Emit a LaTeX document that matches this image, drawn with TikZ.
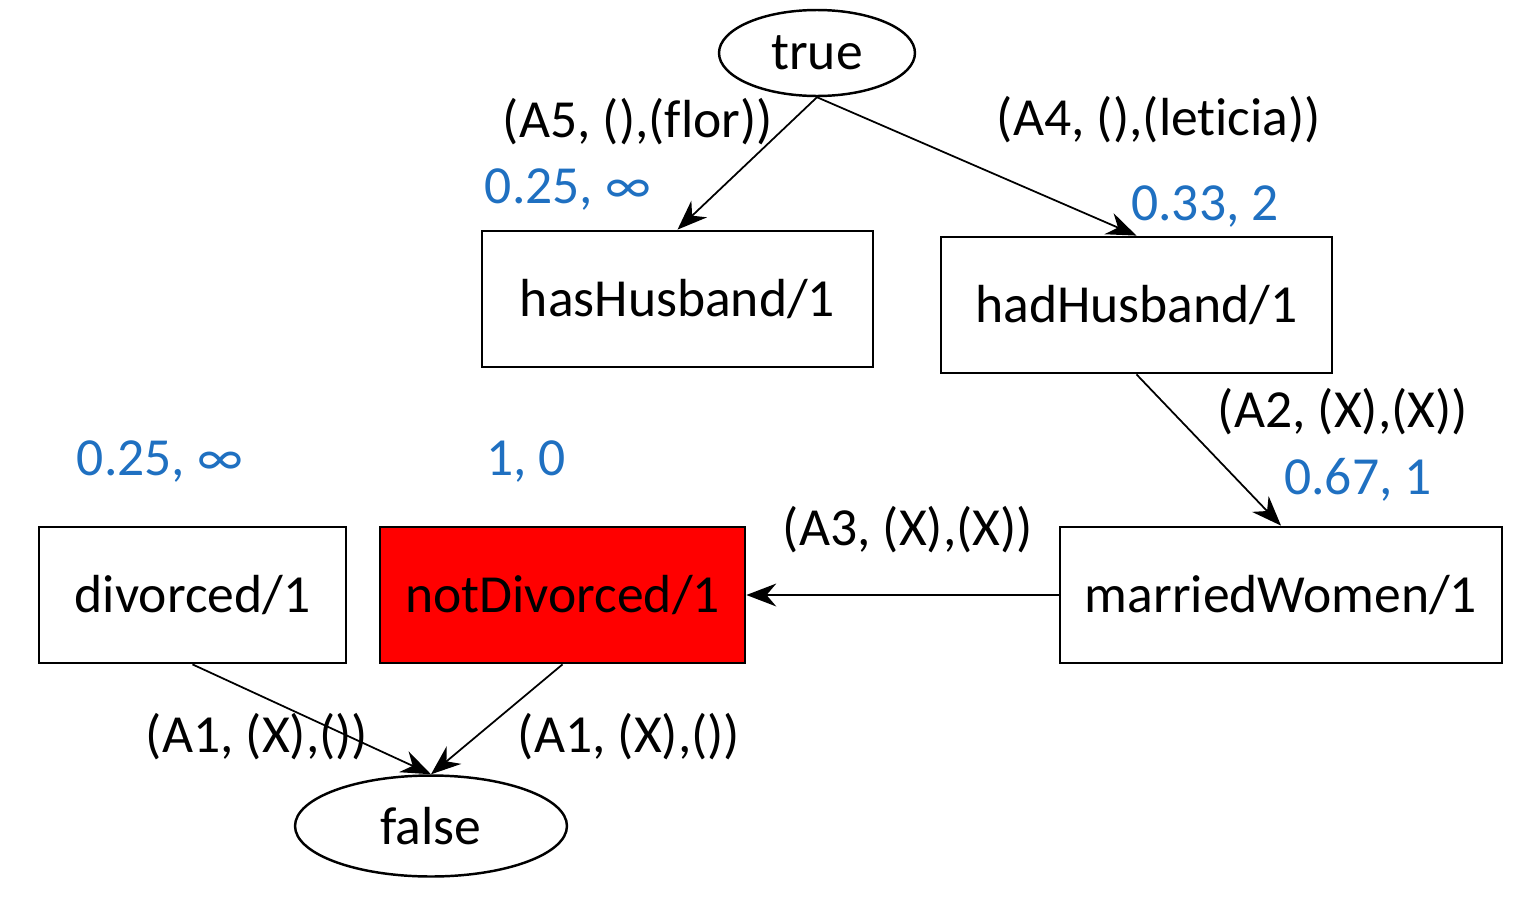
\documentclass[tikz,border=0pt]{standalone}
\usepackage{fontspec}
\setmainfont[Ligatures=NoCommon]{Carlito}
\usetikzlibrary{arrows.meta, positioning, shapes.geometric}
\definecolor{costblue}{HTML}{1F70C1}
\definecolor{failred}{HTML}{FF0000}

\begin{document}
\begin{tikzpicture}[x=0.02cm, y=-0.02cm,
    pred/.style={rectangle, draw=black, line width=1.6pt, inner sep=0pt,
                 minimum height=2.72cm, font=\fontsize{30.5}{36}\selectfont},
    term/.style={ellipse, draw=black, line width=1.4pt, inner sep=0pt,
                 font=\fontsize{30.5}{36}\selectfont},
    lbl/.style={font=\fontsize{30.5}{36}\selectfont, inner sep=0pt},
    cost/.style={lbl, text=costblue},
    arr/.style={-{Stealth[length=17pt, width=13pt]}, line width=1pt}
  ]
    \useasboundingbox (0,0) rectangle (1528,896);

    % terminal nodes
    \node[term, minimum width=3.92cm, minimum height=1.72cm] (top) at (817,53) {true};
    \node[term, minimum width=5.44cm, minimum height=2.02cm] (bot) at (431,826) {false};

    % predicates
    \node[pred, minimum width=7.82cm] (hasH) at (677.5,299) {hasHusband/1};
    \node[pred, minimum width=7.82cm] (hadH) at (1136.5,305) {hadHusband/1};
    \node[pred, minimum width=6.14cm] (div) at (192.5,595) {divorced/1};
    \node[pred, minimum width=7.30cm, fill=failred] (notdiv) at (562.5,595) {notDivorced/1};
    \node[pred, minimum width=8.84cm] (married) at (1281,595) {marriedWomen/1};

    % edges
    \draw[arr] (top.south) -- (hasH.north);
    \draw[arr] (top.south) -- (hadH.north);
    \draw[arr] (hadH.south) -- (married.north);
    \draw[arr] (married.west) -- (notdiv.east);
    \draw[arr] (div.south) -- (bot.north);
    \draw[arr] (notdiv.south) -- (bot.north);

    % rule labels
    \node[lbl] (rA5) at (638,122) {(A5, (),(flor))};
    \node[lbl] (rA4) at (1159,120) {(A4, (),(leticia))};
    \node[lbl] (rA2) at (1343,412) {(A2, (X),(X))};
    \node[lbl] (rA3) at (908,530) {(A3, (X),(X))};
    \node[lbl] (rA1a) at (257,737) {(A1, (X),())};
    \node[lbl] (rA1b) at (629,737) {(A1, (X),())};

    % costs
    \node[cost] (cHas) at (568,190) {0.25, ∞};
    \node[cost] (cHad) at (1205,207) {0.33, 2};
    \node[cost] (cMar) at (1358,480) {0.67, 1};
    \node[cost] (cDiv) at (160,462) {0.25, ∞};
    \node[cost] (cNot) at (526,462) {1, 0};
\end{tikzpicture}
\end{document}
